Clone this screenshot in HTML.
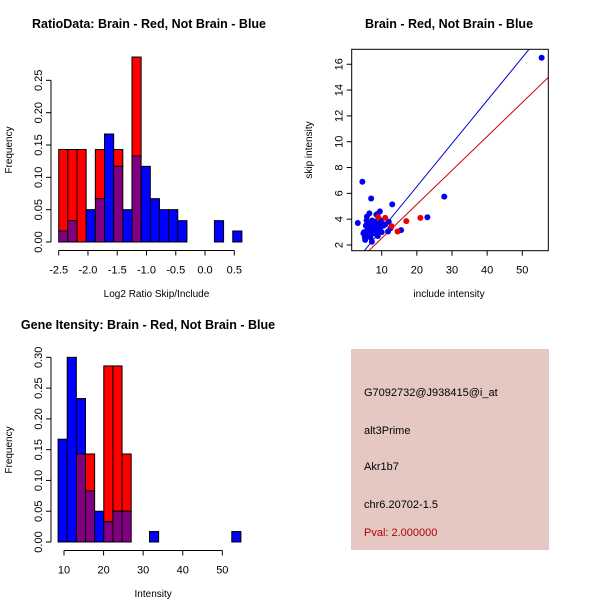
<!DOCTYPE html>
<html><head><meta charset="utf-8"><style>
body{margin:0;background:#fff}
svg{display:block;font-family:"Liberation Sans",sans-serif}
</style></head><body>
<svg id="c" width="600" height="600" viewBox="0 0 600 600">
<rect x="351" y="349" width="198" height="201" fill="#e6c8c2"/>
<g font-size="11" fill="#000">
<text x="364" y="396">G7092732@J938415@i_at</text>
<text x="364" y="434">alt3Prime</text>
<text x="364" y="470">Akr1b7</text>
<text x="364" y="508">chr6.20702-1.5</text>
<text x="364" y="536" fill="#b00000">Pval: 2.000000</text>
</g>
</svg>
<script>
// Ratio histogram data (20 bins from -2.5, width 0.1565)
const ratioRed=[0.143,0.143,0.143,0,0.143,0,0.143,0,0.286,0,0,0,0,0,0,0,0,0,0,0];
const ratioBlue=[0.017,0.033,0,0.05,0.067,0.167,0.117,0.05,0.133,0.117,0.067,0.05,0.05,0.033,0,0,0,0.033,0,0.017];
const ratioXTicks=[-2.5,-2.0,-1.5,-1.0,-0.5,0.0,0.5];
const ratioYTicks=[0,0.05,0.10,0.15,0.20,0.25];
// Intensity histogram data (20 bins from 8.5, width 2.31)
const intRed=[0,0,0.143,0.143,0,0.286,0.286,0.143,0,0,0,0,0,0,0,0,0,0,0,0];
const intBlue=[0.167,0.30,0.233,0.083,0.05,0.033,0.05,0.05,0,0,0.017,0,0,0,0,0,0,0,0,0.017];
const intXTicks=[10,20,30,40,50];
const intYTicks=[0,0.05,0.10,0.15,0.20,0.25,0.30];
// Scatter data
const blueX=[3.2,4.5,7,13,27.8,23,15.5,55.5,6.5,9.5,8.5,8.8,5.8,12,11.8,7.2,5,5.2,5.5,6,6.2,6.5,7,7.5,7.8,8,8.3,8.7,9,9.5,10,10.5,11,6.8,5.7,7.3,8.9,5.3,6,9.8,12.5,4.8,6.6,7.9,10.2,8.1];
const blueY=[3.7,6.9,5.6,5.15,5.75,4.15,3.15,16.5,4.45,4.6,4.35,4.4,4.2,3.8,3.05,2.25,3.0,2.6,3.5,3.2,2.8,3.7,3.3,3.0,3.6,2.9,3.4,3.1,3.6,3.3,3.0,3.5,3.6,2.6,3.9,3.9,2.7,2.4,3.6,3.9,3.3,2.9,3.0,3.2,3.6,3.8];
const redX=[9,11,14.5,17,21,12.8];
const redY=[4.15,4.1,3.05,3.85,4.1,3.45];
const blueLine=[0.333,-0.13];
const redLine=[0.263,-0.11];
const scXTicks=[10,20,30,40,50];
const scYTicks=[2,4,6,8,10,12,14,16];

const svg=document.getElementById('c');
const NS='http://www.w3.org/2000/svg';
function mk(tag,attrs,parent){const e=document.createElementNS(NS,tag);for(const k in attrs)e.setAttribute(k,attrs[k]);(parent||svg).appendChild(e);return e;}
function txt(x,y,s,attrs,parent){const t=mk('text',Object.assign({x:x,y:y},attrs||{}),parent);t.textContent=s;return t;}

function hist(name,red,blue,x0,bw,sx,sy,xTicks,yTicks,yAxisX,xAxisY,title,titleX,titleY,xlab,xlabY,ylabY,fmt){
  const g=mk('g',{});
  
  
  for(let i=0;i<red.length;i++){
    const xa=sx(x0+i*bw),xb=sx(x0+(i+1)*bw);
    const r=red[i],b=blue[i],lo=Math.min(r,b),hi=Math.max(r,b);
    if(hi<=0)continue;
    if(hi>lo){const rc=mk('rect',{x:xa,y:sy(hi),width:xb-xa,height:sy(lo)-sy(hi),fill:r>b?'#ff0000':'#0000ff',stroke:'#000','stroke-width':1},g);
      
      }
    if(lo>0){const pc=mk('rect',{x:xa,y:sy(lo),width:xb-xa,height:sy(0)-sy(lo),fill:'#800080',stroke:'#000','stroke-width':1},g);
      
      }
  }
  mk('line',{x1:yAxisX,x2:yAxisX,y1:sy(yTicks[0]),y2:sy(yTicks[yTicks.length-1]),stroke:'#000'},g);
  yTicks.forEach(v=>{const y=sy(v);mk('line',{x1:yAxisX-5,x2:yAxisX,y1:y,y2:y,stroke:'#000'},g);
    const t=txt(yAxisX-9,y,v.toFixed(2),{'font-size':11,'text-anchor':'middle',transform:`rotate(-90 ${yAxisX-9} ${y})`},g);
    });
  mk('line',{x1:sx(xTicks[0]),x2:sx(xTicks[xTicks.length-1]),y1:xAxisY,y2:xAxisY,stroke:'#000'},g);
  xTicks.forEach(v=>{const x=sx(v);mk('line',{x1:x,x2:x,y1:xAxisY,y2:xAxisY+5,stroke:'#000'},g);
    const t=txt(x,xAxisY+23,fmt(v),{'font-size':11,'text-anchor':'middle'},g);
    });
  const tt=txt(titleX,titleY,title,{'font-size':12.5,'font-weight':'bold','text-anchor':'middle'},g);
  
  const xl=txt(sx((xTicks[0]+xTicks[xTicks.length-1])/2)+10,xlabY,xlab,{'font-size':10,'text-anchor':'middle'},g);
  
  const yl=txt(12,ylabY,'Frequency',{'font-size':10,'text-anchor':'middle',transform:`rotate(-90 12 ${ylabY})`},g);
  
}
hist('ratio-histogram',ratioRed,ratioBlue,-2.5,0.1565,v=>58.7+(v+2.5)*58.53,v=>242-v*646.7,
  ratioXTicks,ratioYTicks,51,250.5,'RatioData: Brain - Red, Not Brain - Blue',149,28,'Log2 Ratio Skip/Include',297,150,v=>v.toFixed(1));
hist('intensity-histogram',intRed,intBlue,8.5,2.31,v=>64+(v-10)*3.958,v=>542-v*615.6,
  intXTicks,intYTicks,51,550.5,'Gene Itensity: Brain - Red, Not Brain - Blue',148,329,'Intensity',597,450,v=>String(v));

(function(){
  const g=mk('g',{});
  
  
  const sx=v=>381.7+(v-10)*3.515, sy=v=>245-(v-2)*12.91;
  const L=351.7,R=548.3,T=49.3,B=250.7;
  const cp=mk('clipPath',{id:'cl'},g);mk('rect',{x:L,y:T,width:R-L,height:B-T},cp);
  const lines=mk('g',{'clip-path':'url(#cl)'},g);
  [[blueLine,'#0000cc'],[redLine,'#cc0000']].forEach(([p,c])=>{const x1=0,x2=60;
    const l=mk('line',{x1:sx(x1),x2:sx(x2),y1:sy(p[0]*x1+p[1]),y2:sy(p[0]*x2+p[1]),stroke:c,'stroke-width':1},lines);
    });
  blueX.forEach((x,i)=>{const c=mk('circle',{cx:sx(x),cy:sy(blueY[i]),r:3,fill:'#0000ee'},g);
    });
  redX.forEach((x,i)=>{const c=mk('circle',{cx:sx(x),cy:sy(redY[i]),r:3,fill:'#ee0000'},g);
    });
  mk('rect',{x:L,y:T,width:R-L,height:B-T,fill:'none',stroke:'#000'},g);
  scXTicks.forEach(v=>{const x=sx(v);mk('line',{x1:x,x2:x,y1:B,y2:B+5,stroke:'#000'},g);
    const t=txt(x,B+23,String(v),{'font-size':11,'text-anchor':'middle'},g);
    });
  scYTicks.forEach(v=>{const y=sy(v);mk('line',{x1:L-5,x2:L,y1:y,y2:y,stroke:'#000'},g);
    const t=txt(L-9,y,String(v),{'font-size':11,'text-anchor':'middle',transform:`rotate(-90 ${L-9} ${y})`},g);
    });
  const tt=txt(449,28,'Brain - Red, Not Brain - Blue',{'font-size':12.5,'font-weight':'bold','text-anchor':'middle'},g);
  
  const xl=txt(449,297,'include intensity',{'font-size':10,'text-anchor':'middle'},g);
  
  const yl=txt(312,150,'skip intensity',{'font-size':10,'text-anchor':'middle',transform:'rotate(-90 312 150)'},g);
  
})();
</script>
</body></html>
